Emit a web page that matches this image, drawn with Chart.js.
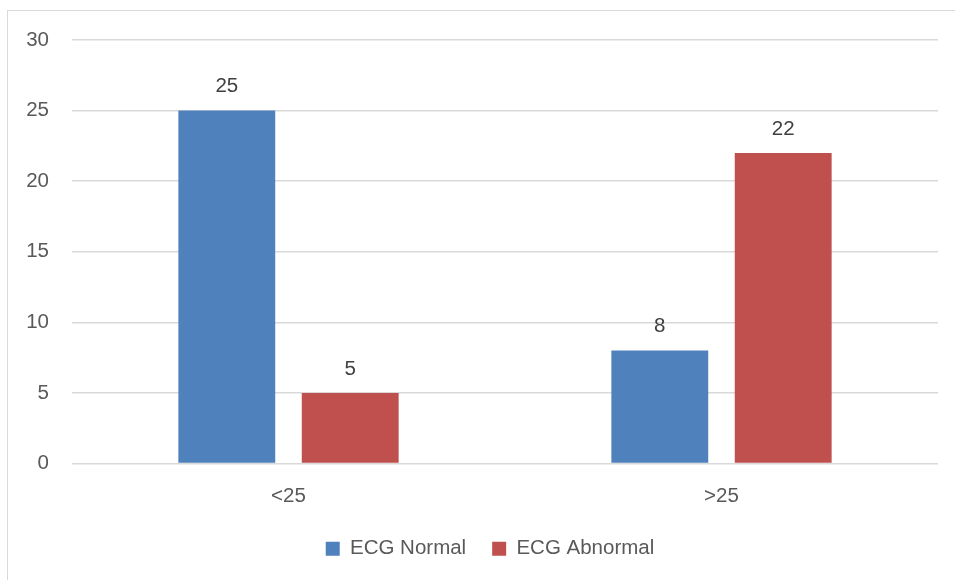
<!DOCTYPE html>
<html>
<head>
<meta charset="utf-8">
<script src="https://cdn.jsdelivr.net/npm/chart.js@4/dist/chart.umd.min.js"></script>
<style>
  html, body { margin: 0; padding: 0; background: #fff; overflow: hidden; }
  #wrap { position: relative; width: 955px; height: 580px; }
  #frame { position: absolute; left: 7px; top: 10px; width: 1000px; height: 700px; border: 1px solid #d9d9d9; box-sizing: border-box; }
  canvas { position: absolute; left: 0; top: 0; }
</style>
</head>
<body>
<div id="wrap">
  <div id="frame"></div>
  <canvas id="c" width="955" height="580"></canvas>
</div>
<script>
const categories = ['<25', '>25'];
const ecgNormal = [25, 8];
const ecgAbnormal = [5, 22];
const yTicks = [0, 5, 10, 15, 20, 25, 30];

const FONT = "'Liberation Sans', Arial, sans-serif";
const LEGEND_SHIFT = 16;

// value labels drawn above each bar
const valueLabels = {
  id: 'valueLabels',
  afterDatasetsDraw(chart) {
    const ctx = chart.ctx;
    ctx.save();
    ctx.font = '20.5px ' + FONT;
    ctx.fillStyle = '#404040';
    ctx.textAlign = 'center';
    ctx.textBaseline = 'middle';
    chart.data.datasets.forEach((ds, i) => {
      chart.getDatasetMeta(i).data.forEach((bar, j) => {
        ctx.fillText(String(ds.data[j]), bar.x, bar.y - 24);
      });
    });
    ctx.restore();
  }
};

// centre the legend under the plot area rather than the whole canvas
const legendOffset = {
  id: 'legendOffset',
  afterLayout(chart) {
    const lg = chart.legend;
    if (!lg) return;
    lg.left += LEGEND_SHIFT;
    lg.right += LEGEND_SHIFT;
    if (lg.adjustHitBoxes) lg.adjustHitBoxes();
  }
};

new Chart(document.getElementById('c'), {
  type: 'bar',
  data: {
    labels: categories,
    datasets: [
      { label: 'ECG Normal', data: ecgNormal, backgroundColor: '#4f81bd' },
      { label: 'ECG Abnormal', data: ecgAbnormal, backgroundColor: '#c0504d' }
    ]
  },
  options: {
    responsive: false,
    animation: false,
    devicePixelRatio: 1,
    layout: { padding: { left: 10, right: 17, top: 40, bottom: 11 } },
    datasets: { bar: { categoryPercentage: 0.570, barPercentage: 0.785 } },
    scales: {
      x: {
        grid: { display: false, drawTicks: false },
        border: { display: false },
        ticks: { color: '#595959', font: { family: FONT, size: 20.5 }, padding: 21 },
        afterFit(scale) { scale.height = 49; }
      },
      y: {
        min: 0, max: 30,
        afterBuildTicks(scale) { scale.ticks = yTicks.map(v => ({ value: v })); },
        grid: { color: '#d9d9d9', lineWidth: 1.5, drawTicks: false },
        border: { display: false },
        ticks: { color: '#595959', font: { family: FONT, size: 20.5 }, padding: 23 },
        afterFit(scale) {
          scale.width = 62;
          scale.paddingTop = 0;
          scale.paddingBottom = 0;
        }
      }
    },
    plugins: {
      legend: {
        position: 'bottom',
        labels: {
          color: '#595959',
          font: { family: FONT, size: 20.5 },
          boxWidth: 14, boxHeight: 14,
          padding: 26
        }
      },
      tooltip: { enabled: false }
    }
  },
  plugins: [valueLabels, legendOffset]
});
</script>
</body>
</html>
